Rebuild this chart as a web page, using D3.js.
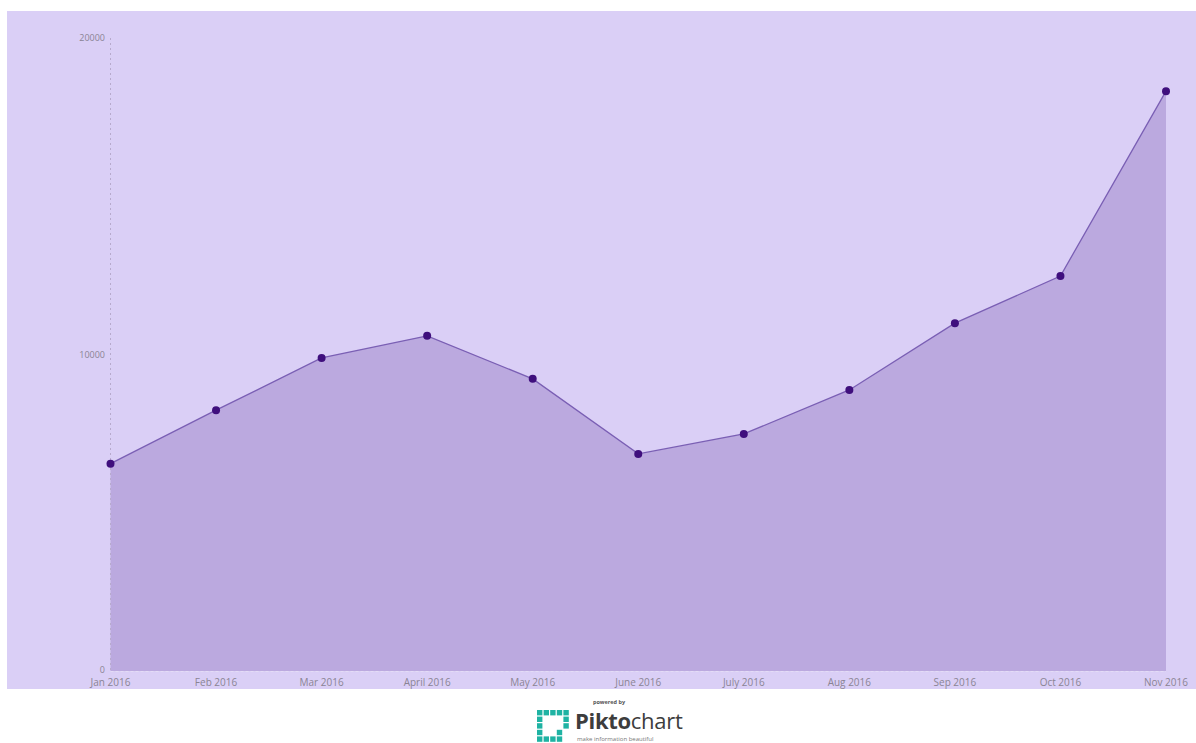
<!DOCTYPE html>
<html>
<head>
<meta charset="utf-8">
<script src="https://cdn.jsdelivr.net/npm/d3@7"></script>
<style>
  html, body { margin: 0; padding: 0; background: #fff; }
  svg { display: block; font-family: "Open Sans", "Liberation Sans", sans-serif; }
</style>
</head>
<body>
<svg id="chart" width="1196" height="743"></svg>
<script>
// data
var months = ['Jan 2016', 'Feb 2016', 'Mar 2016', 'April 2016', 'May 2016', 'June 2016',
  'July 2016', 'Aug 2016', 'Sep 2016', 'Oct 2016', 'Nov 2016'];
var values = [6550, 8240, 9890, 10590, 9230, 6860, 7490, 8880, 10990, 12480, 18320];
var yTicks = [0, 10000, 20000];

var svg = d3.select('#chart');

// panel
var panel = { left: 7, top: 11, right: 1196, bottom: 689 };
svg.append('rect')
  .attr('x', panel.left).attr('y', panel.top)
  .attr('width', panel.right - panel.left)
  .attr('height', panel.bottom - panel.top)
  .attr('fill', '#dacff6');

// scales
var x = d3.scalePoint()
  .domain(months)
  .range([110.5, 1166]);

var y = d3.scaleLinear()
  .domain([0, 20000])
  .range([671, 38]);

var data = months.map((m, i) => ({ month: m, value: values[i] }));

// area under the line
var area = d3.area()
  .x(d => x(d.month))
  .y0(y(0))
  .y1(d => y(d.value));

svg.append('path')
  .datum(data)
  .attr('d', area)
  .attr('fill', '#bba9df');

// y axis: dotted vertical line + labels
svg.append('line')
  .attr('x1', 110.5).attr('x2', 110.5)
  .attr('y1', y(20000)).attr('y2', y(0))
  .attr('stroke', '#b7aacd')
  .attr('stroke-width', 1)
  .attr('stroke-dasharray', '2,3');

svg.selectAll('.ytick')
  .data(yTicks)
  .enter().append('text')
  .attr('class', 'ytick')
  .attr('x', 105)
  .attr('y', d => y(d) - (d === 0 ? 1.5 : 0))
  .attr('dy', '0.35em')
  .attr('text-anchor', 'end')
  .attr('font-size', 9)
  .attr('fill', '#8a8494')
  .text(d => d);

// baseline
svg.append('line')
  .attr('x1', 110.5).attr('x2', 1166)
  .attr('y1', y(0) + 0.5).attr('y2', y(0) + 0.5)
  .attr('stroke', '#e4dcf6')
  .attr('stroke-width', 1)
  .attr('stroke-dasharray', '3,2');

// x labels
svg.selectAll('.xtick')
  .data(months)
  .enter().append('text')
  .attr('class', 'xtick')
  .attr('x', d => x(d))
  .attr('y', 686)
  .attr('text-anchor', 'middle')
  .attr('font-size', 10)
  .attr('fill', '#8a8494')
  .text(d => d);

// line
var line = d3.line()
  .x(d => x(d.month))
  .y(d => y(d.value));

svg.append('path')
  .datum(data)
  .attr('d', line)
  .attr('fill', 'none')
  .attr('stroke', '#7a5fb4')
  .attr('stroke-width', 1.3);

// dots
svg.selectAll('.dot')
  .data(data)
  .enter().append('circle')
  .attr('class', 'dot')
  .attr('cx', d => x(d.month))
  .attr('cy', d => y(d.value))
  .attr('r', 4)
  .attr('fill', '#3f0f7d');

// "powered by Piktochart" footer
var footer = svg.append('g');
footer.append('text')
  .attr('x', 609).attr('y', 704)
  .attr('text-anchor', 'middle')
  .attr('font-size', 5.5)
  .attr('font-weight', 'bold')
  .attr('fill', '#555')
  .text('powered by');

// logo mark: ring of teal squares
var cells = [];
for (var r = 0; r < 5; r++) {
  for (var c = 0; c < 5; c++) {
    var edge = r === 0 || r === 4 || c === 0 || c === 4;
    if (edge && !(r === 4 && c === 4) && !(r === 3 && c === 4)) cells.push([c, r]);
  }
}
cells.push([3, 3]);
footer.selectAll('.cell')
  .data(cells)
  .enter().append('rect')
  .attr('class', 'cell')
  .attr('x', d => 537 + d[0] * 6.6)
  .attr('y', d => 710 + d[1] * 6.6)
  .attr('width', 5.4)
  .attr('height', 5.4)
  .attr('fill', '#1fb3a3');

footer.append('text')
  .attr('x', 575).attr('y', 729)
  .attr('font-size', 22)
  .attr('fill', '#3d3d3d')
  .attr('letter-spacing', -0.3)
  .html('<tspan font-weight="bold">Pikto</tspan><tspan>chart</tspan>');

footer.append('text')
  .attr('x', 577).attr('y', 741)
  .attr('font-size', 6)
  .attr('fill', '#777')
  .text('make information beautiful');
</script>
</body>
</html>
